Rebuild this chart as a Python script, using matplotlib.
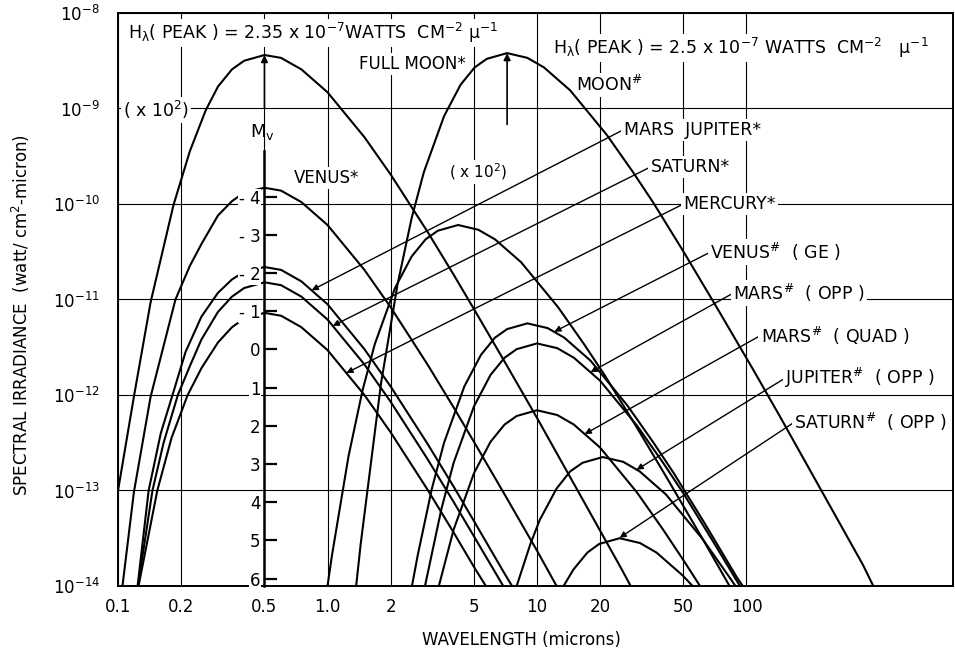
import numpy as np
import matplotlib
matplotlib.use('Agg')
import matplotlib.pyplot as plt

plt.rcParams['font.family'] = ['DejaVu Sans']
plt.rcParams['mathtext.default'] = 'regular'

# wavelength (microns) and log10 spectral irradiance (watt/cm^2-micron)
# reflected sunlight (*)
full_moon_wl = [0.1, 0.119, 0.143, 0.184, 0.22, 0.262, 0.3, 0.35, 0.4, 0.5, 0.6, 0.75, 1.0, 1.5, 2, 3, 4, 5, 7, 10, 15, 20, 25, 28]
full_moon_lg = [-13.0, -12.02, -11.03, -10.01, -9.45, -9.02, -8.77, -8.59, -8.5, -8.44, -8.47, -8.59, -8.83, -9.3, -9.69,
                -10.29, -10.74, -11.1, -11.65, -12.24, -12.93, -13.42, -13.8, -14.0]

venus_wl = [0.105, 0.119, 0.143, 0.188, 0.22, 0.25, 0.3, 0.35, 0.4, 0.5, 0.6, 0.75, 1.0, 1.5, 2, 3, 4, 5, 7, 10, 12.4]
venus_lg = [-14.0, -13.02, -12.02, -11.0, -10.65, -10.42, -10.12, -9.97, -9.88, -9.83, -9.86, -9.98, -10.22, -10.69,
            -11.08, -11.68, -12.13, -12.49, -13.04, -13.63, -14.0]

mars_jup_wl = [0.124, 0.14, 0.16, 0.182, 0.21, 0.25, 0.3, 0.35, 0.4, 0.5, 0.6, 0.75, 1.0, 1.5, 2, 3, 4, 5, 7, 7.6]
mars_jup_lg = [-14.0, -13.0, -12.4, -12.0, -11.55, -11.18, -10.93, -10.79, -10.71, -10.66, -10.69, -10.81, -11.05,
               -11.52, -11.91, -12.51, -12.96, -13.32, -13.87, -14.0]

saturn_wl = [0.1245, 0.146, 0.165, 0.193, 0.22, 0.25, 0.3, 0.35, 0.4, 0.5, 0.6, 0.75, 1.0, 1.5, 2, 3, 4, 5, 6.9]
saturn_lg = [-14.0, -13.0, -12.5, -12.0, -11.7, -11.42, -11.13, -10.97, -10.88, -10.82, -10.85, -10.97, -11.21, -11.68,
             -12.07, -12.67, -13.12, -13.48, -14.0]

mercury_wl = [0.1253, 0.154, 0.18, 0.215, 0.25, 0.3, 0.35, 0.4, 0.5, 0.6, 0.75, 1.0, 1.5, 2, 3, 4, 5, 5.7]
mercury_lg = [-14.0, -13.0, -12.45, -12.0, -11.72, -11.45, -11.29, -11.2, -11.14, -11.17, -11.29, -11.53, -12.0, -12.39,
              -12.99, -13.44, -13.8, -14.0]

# thermal emission (#)
moon_th_wl = [1.37, 1.44, 1.8, 2.16, 2.52, 2.88, 3.6, 4.32, 5.04, 5.76, 7.2, 9.0, 10.8, 14.4, 21.6, 28.8, 36, 50.4,
              72, 108, 144, 216, 360, 403]
moon_th_lg = [-14.0, -13.56, -11.88, -10.84, -10.15, -9.67, -9.08, -8.75, -8.57, -8.48, -8.42, -8.47, -8.57, -8.81,
              -9.28, -9.67, -9.99, -10.51, -11.08, -11.74, -12.22, -12.91, -13.78, -14.0]

hot_th_wl = [1.0, 1.05, 1.26, 1.47, 1.68, 2.1, 2.52, 2.94, 3.36, 4.2, 5.25, 6.3, 8.4, 12.6, 16.8, 21, 29.4, 42, 63, 83]
hot_th_lg = [-14.0, -13.68, -12.64, -11.95, -11.47, -10.88, -10.55, -10.37, -10.28, -10.22, -10.27, -10.37, -10.61,
             -11.08, -11.47, -11.79, -12.31, -12.88, -13.54, -14.0]

venus_th_wl = [2.53, 2.7, 3.15, 3.6, 4.5, 5.4, 6.3, 7.2, 9.0, 11.25, 13.5, 18, 27, 36, 45, 63, 90, 96]
venus_th_lg = [-14.0, -13.67, -12.98, -12.5, -11.91, -11.58, -11.4, -11.31, -11.25, -11.3, -11.4, -11.64, -12.11,
               -12.5, -12.82, -13.34, -13.91, -14.0]

mars_opp_wl = [2.92, 3.5, 4, 5, 6, 7, 8, 10, 12.5, 15, 20, 30, 40, 50, 70, 93]
mars_opp_lg = [-14.0, -13.19, -12.71, -12.12, -11.79, -11.61, -11.52, -11.46, -11.51, -11.61, -11.85, -12.32, -12.71,
               -13.03, -13.55, -14.0]

mars_quad_wl = [3.4, 4, 5, 6, 7, 8, 10, 12.5, 15, 20, 30, 40, 50, 60]
mars_quad_lg = [-14.0, -13.41, -12.82, -12.49, -12.31, -12.22, -12.16, -12.21, -12.31, -12.55, -13.02, -13.41, -13.73,
                -14.0]

jupiter_wl = [8.0, 9.3, 10.3, 12.4, 14.4, 16.5, 20.6, 25.8, 30.9, 41.2, 61.8, 82.4, 88.6]
jupiter_lg = [-14.0, -13.56, -13.31, -12.98, -12.8, -12.71, -12.65, -12.7, -12.8, -13.04, -13.51, -13.9, -14.0]

saturn_th_wl = [13.4, 14.9, 17.4, 19.8, 24.8, 31, 37.2, 49.6, 55.3]
saturn_th_lg = [-14.0, -13.83, -13.65, -13.56, -13.5, -13.55, -13.65, -13.89, -14.0]

curves = [(full_moon_wl, full_moon_lg), (venus_wl, venus_lg), (mars_jup_wl, mars_jup_lg),
          (saturn_wl, saturn_lg), (mercury_wl, mercury_lg), (moon_th_wl, moon_th_lg),
          (hot_th_wl, hot_th_lg), (venus_th_wl, venus_th_lg), (mars_opp_wl, mars_opp_lg),
          (mars_quad_wl, mars_quad_lg), (jupiter_wl, jupiter_lg), (saturn_th_wl, saturn_th_lg)]

x_ticks = [0.1, 0.2, 0.5, 1, 2, 5, 10, 20, 50, 100]
x_tick_labels = ['0.1', '0.2', '0.5', '1.0', '2', '5', '10', '20', '50', '100']
y_exps = [-14, -13, -12, -11, -10, -9, -8]

# visual magnitude scale drawn at 0.5 micron
mv_zero = 3.0e-12  # irradiance at M_v = 0
mv_ticks = [-4, -3, -2, -1, 0, 1, 2, 3, 4, 5, 6]
mv_labels = ['- 4', '- 3', '- 2', '- 1', '0', '1', '2', '3', '4', '5', '6']

# label, text position, arrow tip
planet_labels = [
    ('MARS  JUPITER*', (25.9, 6.0e-10), (0.84, 1.25e-11)),
    ('SATURN*', (34.8, 2.44e-10), (1.06, 5.3e-12)),
    ('MERCURY*', (50.0, 1.0e-10), (1.23, 1.7e-12)),
    ('VENUS$^{\\#}$  ( GE )', (67.3, 3.14e-11), (12.1, 4.6e-12)),
    ('MARS$^{\\#}$  ( OPP )', (86.7, 1.17e-11), (18.0, 1.73e-12)),
    ('MARS$^{\\#}$  ( QUAD )', (116.7, 4.2e-12), (16.9, 3.9e-13)),
    ('JUPITER$^{\\#}$  ( OPP )', (153.5, 1.51e-12), (29.9, 1.65e-13)),
    ('SATURN$^{\\#}$  ( OPP )', (169.4, 5.2e-13), (24.8, 3.2e-14)),
]

fig = plt.figure(figsize=(9.55, 6.5), dpi=100)
ax = fig.add_axes([0.1236, 0.0985, 0.8743, 0.8815])
ax.set_xscale('log')
ax.set_yscale('log')
ax.set_xlim(0.1, 968)
ax.set_ylim(1e-14, 1e-8)

for wl, lg in curves:
    ax.plot(wl, 10.0 ** np.array(lg), color='black', lw=1.5, zorder=3)

ax.set_xticks(x_ticks, labels=x_tick_labels)
ax.set_yticks([10.0 ** e for e in y_exps], labels=['$10^{%d}$' % e for e in y_exps])
ax.minorticks_off()
ax.tick_params(length=0, labelsize=12)
ax.tick_params(axis='y', pad=13)
ax.tick_params(axis='x', pad=9)
ax.grid(True, color='black', lw=0.8)
ax.set_axisbelow(True)
for s in ax.spines.values():
    s.set_linewidth(1.4)

ax.set_xlabel('WAVELENGTH (microns)', fontsize=12)
ax.xaxis.set_label_coords(0.483, -0.078)
ax.set_ylabel('SPECTRAL IRRADIANCE  (watt/ cm$^2$-micron)', fontsize=12)
ax.yaxis.set_label_coords(-0.103, 0.473)

box = dict(boxstyle='square,pad=0.12', fc='white', ec='none')
arrow = dict(arrowstyle='-|>', color='black', lw=1.0, mutation_scale=9, shrinkA=0, shrinkB=0, relpos=(0, 0.5))

for text, txy, hxy in planet_labels:
    ax.annotate(text, xy=hxy, xytext=txy, ha='left', va='center', fontsize=12.5,
                bbox=box, arrowprops=arrow, zorder=2)

# peak markers
fm_peak = full_moon_wl[int(np.argmax(full_moon_lg))], 10.0 ** max(full_moon_lg)
mt_peak = moon_th_wl[int(np.argmax(moon_th_lg))], 10.0 ** max(moon_th_lg)
peak_arrow = dict(arrowstyle='-|>', color='black', lw=1.2, mutation_scale=10, shrinkA=0, shrinkB=0)
ax.annotate('', xy=fm_peak, xytext=(fm_peak[0], 1e-9), arrowprops=peak_arrow)
ax.annotate('', xy=mt_peak, xytext=(mt_peak[0], 6.8e-10), arrowprops=peak_arrow)

ax.text(0.111, 6.2e-9, 'H$_\\lambda$( PEAK ) = 2.35 x 10$^{-7}$WATTS  CM$^{-2}$ $\\mu^{-1}$', fontsize=12.5,
        ha='left', va='center', bbox=box, zorder=2)
ax.text(11.9, 4.3e-9, 'H$_\\lambda$( PEAK ) = 2.5 x 10$^{-7}$ WATTS  CM$^{-2}$   $\\mu^{-1}$', fontsize=12.5,
        ha='left', va='center', bbox=box, zorder=2)
ax.text(1.42, 2.9e-9, 'FULL MOON*', fontsize=12, ha='left', va='center', bbox=box, zorder=2)
ax.text(15.3, 1.76e-9, 'MOON$^{\\#}$', fontsize=12.5, ha='left', va='center', bbox=box, zorder=2)
ax.text(0.106, 9.6e-10, '( x 10$^2$)', fontsize=12.5, ha='left', va='center', bbox=box, zorder=2)
ax.text(3.82, 2.16e-10, '( x 10$^2$)', fontsize=11, ha='left', va='center', bbox=box, zorder=2)
ax.text(0.689, 1.87e-10, 'VENUS*', fontsize=12, ha='left', va='center', bbox=box, zorder=2)
ax.text(0.49, 5.7e-10, 'M$_v$', fontsize=13, ha='center', va='center', zorder=2)

# M_v axis
mv = ax.twinx()
mv.set_ylim(-2.5 * np.log10(1e-14 / mv_zero), -2.5 * np.log10(1e-8 / mv_zero))
mv.spines['left'].set_position(('data', 0.5))
mv.spines['left'].set_bounds(6.2, -5.2)
mv.spines['left'].set_linewidth(1.8)
for side in ['right', 'top', 'bottom']:
    mv.spines[side].set_visible(False)
mv.yaxis.tick_left()
mv.set_yticks(mv_ticks, labels=mv_labels)
mv.tick_params(axis='y', direction='in', length=9, width=1.6, pad=3, labelsize=12)
for t in mv.get_yticklabels():
    t.set_bbox(dict(boxstyle='square,pad=0.05', fc='white', ec='none'))

fig.savefig('out.png', dpi=100)
